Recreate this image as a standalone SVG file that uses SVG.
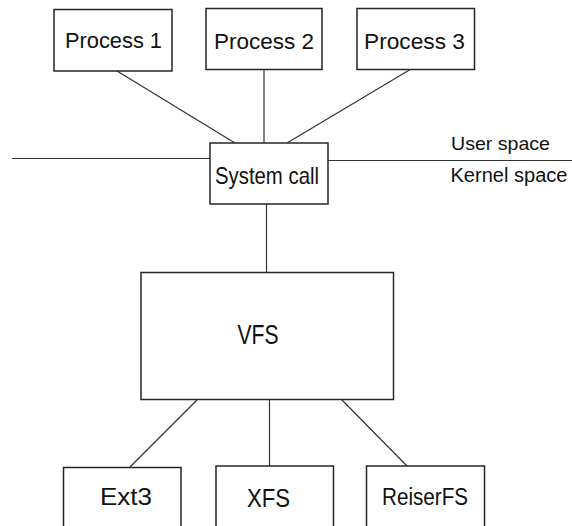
<svg xmlns="http://www.w3.org/2000/svg" width="572" height="526" viewBox="0 0 572 526">
<style>
.box{fill:#fff;stroke:#262626;stroke-width:1.5}
.ln{stroke:#333;stroke-width:1.2;fill:none}
text{font-family:"Liberation Sans",Arial,sans-serif;fill:#111;text-anchor:middle}
</style>
<rect width="572" height="526" fill="#fff"/>
<g id="connectors">
<line class="ln" x1="117" y1="71" x2="235" y2="143"/>
<line class="ln" x1="264" y1="69" x2="264" y2="143"/>
<line class="ln" x1="411" y1="69" x2="287" y2="143"/>
<line class="ln" x1="12" y1="158.5" x2="210" y2="158.5"/>
<line class="ln" x1="328" y1="160.5" x2="572" y2="160.5"/>
<line class="ln" x1="266.5" y1="204" x2="266.5" y2="272"/>
<line class="ln" x1="197" y1="400" x2="130" y2="467"/>
<line class="ln" x1="269.5" y1="400" x2="269.5" y2="466"/>
<line class="ln" x1="342" y1="400" x2="407" y2="466"/>
</g>
<g id="process1"><rect class="box" x="54" y="9.5" width="118" height="61.5"/><text x="113.5" y="48" font-size="22" textLength="97" lengthAdjust="spacingAndGlyphs">Process 1</text></g>
<g id="process2"><rect class="box" x="206" y="8.5" width="116" height="61"/><text x="264" y="49" font-size="22" textLength="100" lengthAdjust="spacingAndGlyphs">Process 2</text></g>
<g id="process3"><rect class="box" x="357" y="8.5" width="117.5" height="61"/><text x="414.5" y="49" font-size="22" textLength="101" lengthAdjust="spacingAndGlyphs">Process 3</text></g>
<g id="syscall"><rect class="box" x="210" y="143" width="118" height="61"/><text x="267" y="184" font-size="24" textLength="104" lengthAdjust="spacingAndGlyphs">System call</text></g>
<g id="labels">
<text x="500.5" y="150" font-size="19" textLength="99" lengthAdjust="spacingAndGlyphs">User space</text>
<text x="509" y="182" font-size="20" textLength="117" lengthAdjust="spacingAndGlyphs">Kernel space</text>
</g>
<g id="vfs"><rect class="box" x="141" y="272.5" width="252.5" height="127"/><text x="258" y="344" font-size="27" textLength="41" lengthAdjust="spacingAndGlyphs">VFS</text></g>
<g id="ext3"><rect class="box" x="63.5" y="467.5" width="117.5" height="70"/><text x="126" y="505" font-size="23" textLength="52" lengthAdjust="spacingAndGlyphs">Ext3</text></g>
<g id="xfs"><rect class="box" x="216" y="466" width="117.5" height="70"/><text x="268.5" y="507" font-size="25" textLength="43" lengthAdjust="spacingAndGlyphs">XFS</text></g>
<g id="reiserfs"><rect class="box" x="366.5" y="466" width="118" height="70"/><text x="425" y="505" font-size="23" textLength="86" lengthAdjust="spacingAndGlyphs">ReiserFS</text></g>
</svg>
